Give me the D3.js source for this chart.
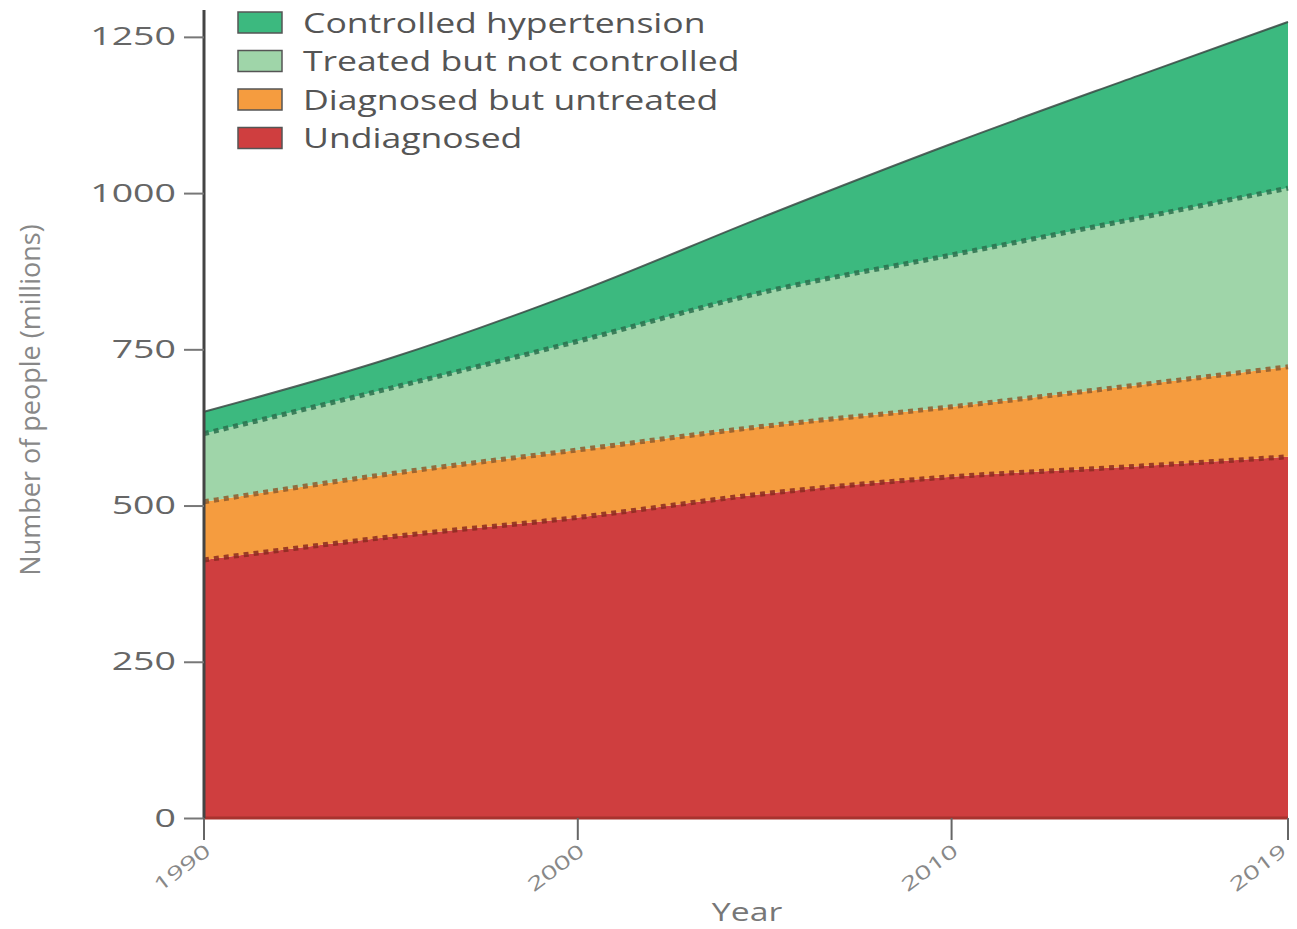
<!DOCTYPE html>
<html>
<head>
<meta charset="utf-8">
<script src="https://cdn.jsdelivr.net/npm/d3@7"></script>
<style>
  body { margin: 0; background: #fff; }
  text { font-family: "Open Sans", sans-serif; }
</style>
</head>
<body>
<div id="chart"></div>
<script>
// years and layer values (millions)
var years = [1990, 1995, 2000, 2005, 2010, 2015, 2019];
var undiagnosed = [413, 450, 481, 519, 546, 563, 578];
var diagnosedUntreated = [93, 101, 108, 108, 112, 130, 144];
var treatedNotControlled = [109, 137, 174, 215, 243, 267, 286];
var controlled = [35, 48, 79, 121, 178, 228, 266];

var yTicks = [0, 250, 500, 750, 1000, 1250];
var xTicks = [1990, 2000, 2010, 2019];

var keys = ["undiagnosed", "diagnosed", "treated", "controlled"];
var legendLabels = ["Controlled hypertension", "Treated but not controlled", "Diagnosed but untreated", "Undiagnosed"];
var legendKeys = ["controlled", "treated", "diagnosed", "undiagnosed"];

var colors = {
    undiagnosed: "#cf3e3f",
    diagnosed: "#f59c3f",
    treated: "#9fd5a9",
    controlled: "#3cb97f"
};
var lineColors = {
    undiagnosed: "#8a2a20",
    diagnosed: "#8e5a2c",
    treated: "#2a6e4c",
    controlled: "#3a4a44"
};

var data = years.map(function(y, i) {
    return {
        year: y,
        undiagnosed: undiagnosed[i],
        diagnosed: diagnosedUntreated[i],
        treated: treatedNotControlled[i],
        controlled: controlled[i]
    };
});

var width = 1297, height = 929;

var svg = d3.select("#chart").append("svg")
    .attr("width", width)
    .attr("height", height);

var x = d3.scaleLinear()
    .domain([1990, 2019])
    .range([204, 1288]);

var y = d3.scaleLinear()
    .domain([0, 1293])
    .range([818, 10]);

var series = d3.stack().keys(keys)(data);

var area = d3.area()
    .curve(d3.curveMonotoneX)
    .x(function(d) { return x(d.data.year); })
    .y0(function(d) { return y(d[0]); })
    .y1(function(d) { return y(d[1]); });

var topLine = d3.line()
    .curve(d3.curveMonotoneX)
    .x(function(d) { return x(d.data.year); })
    .y(function(d) { return y(d[1]); });

svg.selectAll(".layer")
    .data(series)
    .enter().append("path")
    .attr("class", "layer")
    .attr("d", area)
    .attr("fill", function(d) { return colors[d.key]; });

// boundary lines: dotted between layers, solid on top
svg.selectAll(".edge")
    .data(series)
    .enter().append("path")
    .attr("class", "edge")
    .attr("d", topLine)
    .attr("fill", "none")
    .attr("stroke", function(d) { return lineColors[d.key]; })
    .attr("stroke-width", function(d) { return d.key === "controlled" ? 2 : 5; })
    .attr("stroke-dasharray", function(d) { return d.key === "controlled" ? null : "5,5"; })
    .attr("opacity", 0.85);

// base shadow
svg.append("line")
    .attr("x1", x(1990)).attr("x2", x(2019))
    .attr("y1", y(0)).attr("y2", y(0))
    .attr("stroke", "#a8332f")
    .attr("stroke-width", 3);

// y axis
var yAxis = d3.axisLeft(y)
    .tickValues(yTicks)
    .tickSize(20)
    .tickFormat(d3.format("d"));

var gy = svg.append("g")
    .attr("transform", "translate(204,0)")
    .call(yAxis);
gy.select(".domain").attr("stroke", "#444").attr("stroke-width", 3)
    .attr("d", "M0," + y(0) + "V10");
gy.selectAll(".tick line").attr("stroke", "#777").attr("stroke-width", 2);
// the reference type is wide, so stretch the labels sideways
gy.selectAll(".tick text")
    .attr("x", 0)
    .attr("transform", "translate(-28,0) scale(1.5,1)")
    .attr("fill", "#666")
    .style("font-size", "25px");

// x axis
var gx = svg.append("g")
    .attr("transform", "translate(0," + y(0) + ")");
gx.selectAll(".xtick")
    .data(xTicks)
    .enter().append("line")
    .attr("x1", function(d) { return x(d); })
    .attr("x2", function(d) { return x(d); })
    .attr("y1", 0).attr("y2", 22)
    .attr("stroke", "#666")
    .attr("stroke-width", 2);
gx.selectAll(".xlabel")
    .data(xTicks)
    .enter().append("text")
    .attr("transform", function(d) {
        var dx = d === 2019 ? -4 : 4;
        return "translate(" + (x(d) + dx) + ",30) rotate(-37) scale(1.5,1)";
    })
    .attr("text-anchor", "end")
    .attr("dy", "0.35em")
    .attr("fill", "#888")
    .style("font-size", "19px")
    .text(function(d) { return d; });

svg.append("text")
    .attr("transform", "translate(747,921) scale(1.35,1)")
    .attr("text-anchor", "middle")
    .attr("fill", "#777")
    .style("font-size", "25px")
    .text("Year");

svg.append("text")
    .attr("transform", "translate(40,400) rotate(-90)")
    .attr("text-anchor", "middle")
    .attr("fill", "#888")
    .style("font-size", "27px")
    .text("Number of people (millions)");

// legend
var legend = svg.selectAll(".legend")
    .data(legendKeys)
    .enter().append("g")
    .attr("class", "legend")
    .attr("transform", function(d, i) { return "translate(238," + (12 + i * 38.5) + ")"; });

legend.append("rect")
    .attr("width", 44)
    .attr("height", 21)
    .attr("fill", function(d) { return colors[d]; })
    .attr("stroke", "#555")
    .attr("stroke-width", 1.5);

legend.append("text")
    .attr("transform", "translate(65,11) scale(1.27,1)")
    .attr("dy", "0.35em")
    .attr("fill", "#555")
    .style("font-size", "28px")
    .text(function(d, i) { return legendLabels[i]; });
</script>
</body>
</html>
